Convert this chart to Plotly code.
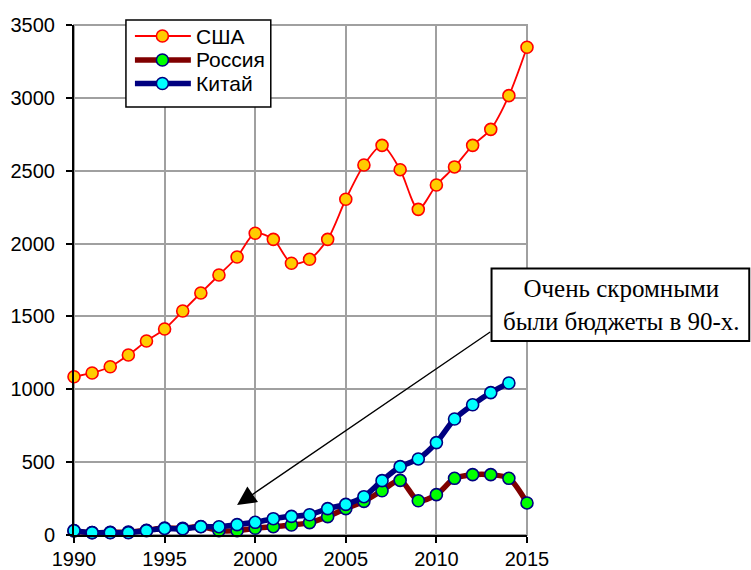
import plotly.graph_objects as go

years = list(range(1990, 2016))
usa = [1086, 1112, 1155, 1235, 1331, 1414, 1537, 1661, 1784, 1908,
       2071, 2029, 1865, 1892, 2029, 2304, 2539, 2674, 2507, 2235,
       2402, 2526, 2674, 2784, 3015, 3347]
russia = [28, 16, 18, 20, 33, 48, 46, 58, 30, 30,
          46, 57, 69, 85, 126, 181, 231, 304, 375, 235,
          277, 389, 414, 414, 389, 220]
china_years = list(range(1990, 2015))
china = [30, 16, 16, 16, 30, 45, 42, 57, 57, 71,
         87, 112, 128, 139, 181, 210, 263, 373, 469, 522,
         634, 796, 894, 977, 1043]

series_names = ["США", "Россия", "Китай"]
line_colors = ["#FF0000", "#800000", "#000080"]
fill_colors = ["#FFCC00", "#00FF00", "#00FFFF"]
edge_colors = ["#FF0000", "#000080", "#000080"]
line_widths = [1.8, 5.5, 5.5]

y_ticks = list(range(0, 3501, 500))
x_ticks = list(range(1990, 2016, 5))
note_text = "Очень скромными<br>были бюджеты в 90-х."

SANS = "Arial, Liberation Sans, sans-serif"
SERIF = "Times New Roman, Liberation Serif, serif"

fig = go.Figure()
data = [(years, usa), (years, russia), (china_years, china)]
for i, (xs, ys) in enumerate(data):
    fig.add_trace(go.Scatter(
        x=xs, y=ys, name=series_names[i], mode="lines+markers",
        line=dict(color=line_colors[i], width=line_widths[i], shape="spline", smoothing=0.8),
        marker=dict(size=12, color=fill_colors[i], line=dict(color=edge_colors[i], width=1.6)),
        showlegend=False, cliponaxis=False,
    ))

W, H = 751, 570
L, R, T, B = 74, 527.5, 25, 535
pw, ph = R - L, B - T

def px(x):
    return (x - L) / pw

def py(y):
    return (B - y) / ph

shapes = []
shapes.append(dict(type="rect", xref="paper", yref="paper", x0=0, x1=1, y0=0, y1=1,
                   line=dict(color="#A0A0A0", width=2), layer="below"))
shapes.append(dict(type="rect", xref="paper", yref="paper",
                   x0=px(126), x1=px(271), y0=py(107), y1=py(20),
                   line=dict(color="black", width=1.5), fillcolor="white", layer="above"))
annotations = []
row_y = [36, 60, 83.5]
for i in range(3):
    shapes.append(dict(type="line", xref="paper", yref="paper",
                       x0=px(135), x1=px(191), y0=py(row_y[i]), y1=py(row_y[i]),
                       line=dict(color=line_colors[i], width=line_widths[i]),
                       layer="above"))
    shapes.append(dict(type="circle", xref="paper", yref="paper",
                       xsizemode="pixel", ysizemode="pixel",
                       xanchor=px(162.5), yanchor=py(row_y[i]),
                       x0=-6, x1=6, y0=-6, y1=6,
                       fillcolor=fill_colors[i], line=dict(color=edge_colors[i], width=1.6),
                       layer="above"))
    annotations.append(dict(xref="paper", yref="paper", x=px(194), y=py(row_y[i]),
                            xanchor="left", yanchor="middle", showarrow=False,
                            text=series_names[i], font=dict(family=SANS, size=21, color="black")))

shapes.append(dict(type="rect", xref="paper", yref="paper",
                   x0=px(492), x1=px(750), y0=py(341), y1=py(268.5),
                   line=dict(color="black", width=2), fillcolor="white", layer="above"))
annotations.append(dict(xref="paper", yref="paper", x=px(622), y=py(305),
                        xanchor="center", yanchor="middle", showarrow=False,
                        text=note_text, align="center",
                        font=dict(family=SERIF, size=25, color="black")))
annotations.append(dict(x=1999.0, y=206, xref="x", yref="y",
                        ax=2013.05, ay=1400, axref="x", ayref="y",
                        text="", showarrow=True, arrowhead=2, arrowsize=2.7,
                        arrowwidth=1.4, arrowcolor="black", standoff=0, startstandoff=0))

fig.update_layout(
    width=W, height=H,
    margin=dict(l=L, r=W - R, t=T, b=H - B, autoexpand=False),
    paper_bgcolor="white", plot_bgcolor="white",
    font=dict(family=SANS, size=20, color="black"),
    shapes=shapes, annotations=annotations,
    showlegend=False,
    xaxis=dict(range=[1990, 2015], tickvals=x_ticks, ticktext=[str(t) for t in x_ticks],
               showgrid=True, gridcolor="#A0A0A0", gridwidth=2,
               showline=True, linecolor="black", linewidth=2,
               ticks="outside", ticklen=6, tickwidth=2, tickcolor="black",
               zeroline=False, tickfont=dict(size=20), ticklabelstandoff=-1),
    yaxis=dict(range=[0, 3500], tickvals=y_ticks, ticktext=[str(t) for t in y_ticks],
               showgrid=True, gridcolor="#A0A0A0", gridwidth=2,
               showline=True, linecolor="black", linewidth=2,
               ticks="outside", ticklen=6, tickwidth=2, tickcolor="black",
               zeroline=False, tickfont=dict(size=20), ticklabelstandoff=7),
)

fig.write_html("out.html", config={"displayModeBar": False},
               post_script="document.body.style.margin='0';document.body.style.overflow='hidden';")
